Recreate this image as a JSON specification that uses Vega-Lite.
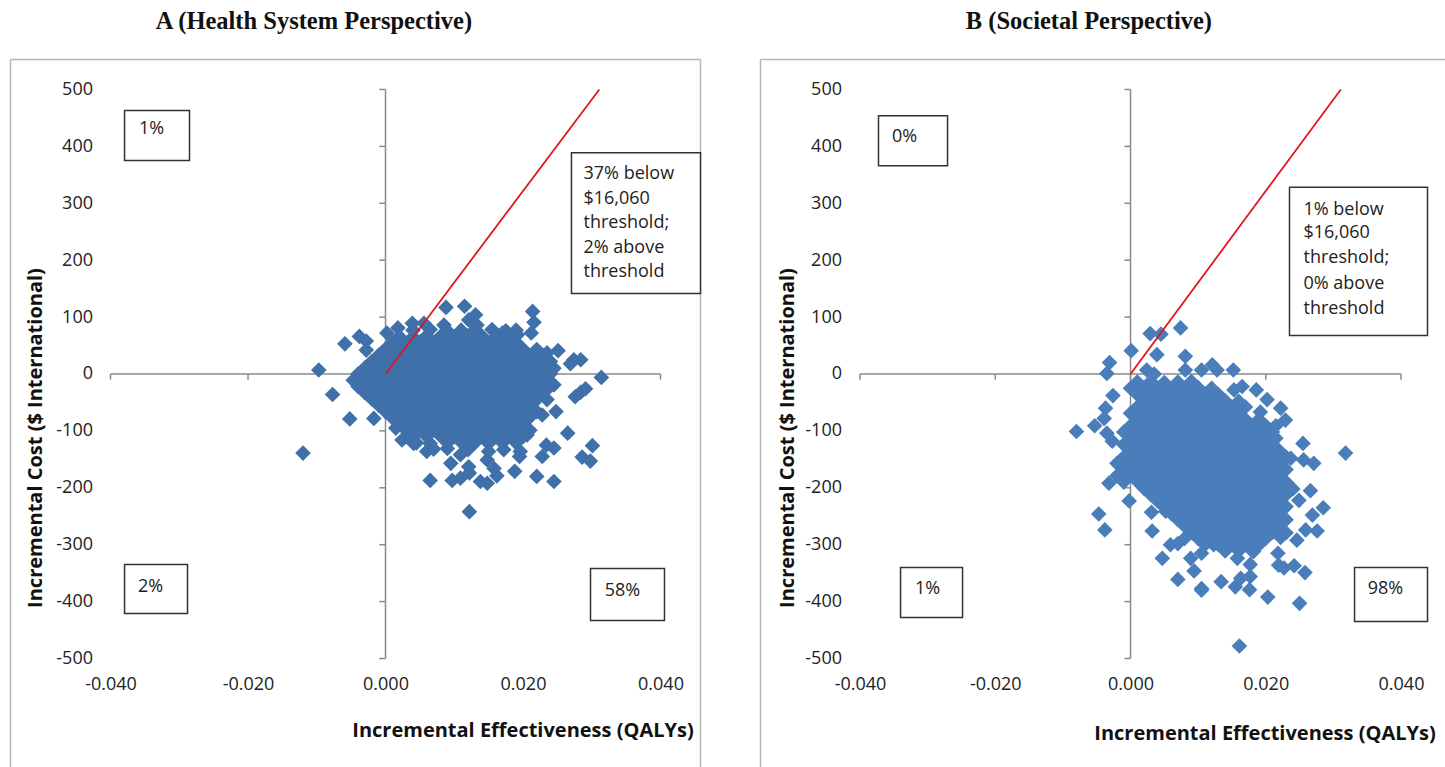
{"$schema":"https://vega.github.io/schema/vega-lite/v6.json","padding":{"left":9.5,"top":8.5,"right":0,"bottom":0},"spacing":58,"background":"white","config":{"view":{"stroke":null},"text":{"font":"Open Sans"}},
"datasets":{
"a":[
{"x":-0.0097,"y":7},{"x":-0.0059,"y":53},{"x":-0.0038,"y":66},{"x":-0.0028,"y":58},{"x":-0.0028,"y":42},{"x":-0.0077,"y":-36},{"x":-0.0052,"y":-79},{"x":-0.0017,"y":-78},{"x":-0.012,"y":-139},{"x":0.0088,"y":117},{"x":0.0115,"y":119},{"x":0.0131,"y":104},{"x":0.0121,"y":95},{"x":0.0214,"y":110},{"x":0.0216,"y":91},{"x":0.0212,"y":72},{"x":0.0251,"y":41},{"x":0.0274,"y":25},{"x":0.0284,"y":25},{"x":0.0269,"y":18},{"x":0.0314,"y":-6},{"x":0.0291,"y":-26},{"x":0.0284,"y":-32},{"x":0.0276,"y":-40},{"x":0.0248,"y":-66},{"x":0.0265,"y":-104},{"x":0.0301,"y":-126},{"x":0.0286,"y":-146},{"x":0.0298,"y":-153},{"x":0.0245,"y":-130},{"x":0.0234,"y":-125},{"x":0.0228,"y":-145},{"x":0.0245,"y":-189},{"x":0.022,"y":-180},{"x":0.0188,"y":-171},{"x":0.0195,"y":-145},{"x":0.0196,"y":-136},{"x":0.0162,"y":-179},{"x":0.0148,"y":-192},{"x":0.0138,"y":-189},{"x":0.0122,"y":-174},{"x":0.0121,"y":-163},{"x":0.0109,"y":-183},{"x":0.0097,"y":-187},{"x":0.0065,"y":-187},{"x":0.0122,"y":-242},{"x":0.0095,"y":-157},{"x":0.0148,"y":-151},{"x":0.0158,"y":-166},{"x":0.015,"y":-136},{"x":0.0172,"y":-133},{"x":0.0109,"y":-142},{"x":0.006,"y":-136},{"x":0.0024,"y":-116},{"x":0.0015,"y":-95},{"x":0.0041,"y":-122},{"x":0.0002,"y":72},{"x":0.0018,"y":81},{"x":0.0039,"y":89},{"x":0.0056,"y":89},{"x":0.0085,"y":86},{"x":0.0133,"y":86},{"x":0.0155,"y":78},{"x":0.017,"y":72},{"x":0.0192,"y":69},{"x":0.0235,"y":37},{"x":0.0235,"y":-45},{"x":0.0228,"y":-72},{"x":0.0206,"y":-107},{"x":0.0245,"y":-19},{"x":0.0245,"y":10},
{"x":0.004,"y":77},{"x":0.0065,"y":78},{"x":0.009,"y":76},{"x":0.011,"y":77},{"x":0.013,"y":78},{"x":0.0175,"y":76},{"x":0.019,"y":77},{"x":0.003,"y":-99},{"x":0.004,"y":-110},{"x":0.0045,"y":-121},{"x":0.0065,"y":-122},{"x":0.007,"y":-132},{"x":0.009,"y":-131},{"x":0.012,"y":-133},{"x":0.021,"y":-99},{"x":0.02,"y":-110},{"x":0.019,"y":-121},
{"x":0.002,"y":66},{"x":0.004,"y":65},{"x":0.006,"y":67},{"x":0.008,"y":66},{"x":0.01,"y":64},{"x":0.012,"y":66},{"x":0.014,"y":67},{"x":0.016,"y":65},{"x":0.018,"y":66},
{"x":0.001,"y":55},{"x":0.003,"y":54},{"x":0.005,"y":56},{"x":0.007,"y":55},{"x":0.009,"y":55},{"x":0.011,"y":54},{"x":0.013,"y":56},{"x":0.015,"y":55},{"x":0.017,"y":54},{"x":0.019,"y":56},
{"x":0,"y":44},{"x":0.002,"y":45},{"x":0.004,"y":44},{"x":0.006,"y":43},{"x":0.008,"y":44},{"x":0.01,"y":45},{"x":0.012,"y":44},{"x":0.014,"y":44},{"x":0.016,"y":43},{"x":0.018,"y":45},{"x":0.02,"y":44},{"x":0.022,"y":43},
{"x":-0.001,"y":33},{"x":0.001,"y":34},{"x":0.003,"y":33},{"x":0.005,"y":32},{"x":0.007,"y":33},{"x":0.009,"y":34},{"x":0.011,"y":33},{"x":0.013,"y":33},{"x":0.015,"y":32},{"x":0.017,"y":34},{"x":0.019,"y":33},{"x":0.021,"y":33},{"x":0.023,"y":32},
{"x":-0.002,"y":22},{"x":0,"y":23},{"x":0.002,"y":22},{"x":0.004,"y":21},{"x":0.006,"y":22},{"x":0.008,"y":22},{"x":0.01,"y":23},{"x":0.012,"y":22},{"x":0.014,"y":21},{"x":0.016,"y":22},{"x":0.018,"y":23},{"x":0.02,"y":22},{"x":0.022,"y":21},{"x":0.024,"y":22},
{"x":-0.003,"y":11},{"x":-0.001,"y":12},{"x":0.001,"y":11},{"x":0.003,"y":10},{"x":0.005,"y":11},{"x":0.007,"y":11},{"x":0.009,"y":12},{"x":0.011,"y":11},{"x":0.013,"y":10},{"x":0.015,"y":11},{"x":0.017,"y":12},{"x":0.019,"y":11},{"x":0.021,"y":10},{"x":0.023,"y":11},
{"x":-0.004,"y":0},{"x":-0.002,"y":1},{"x":0,"y":0},{"x":0.002,"y":-1},{"x":0.004,"y":0},{"x":0.006,"y":0},{"x":0.008,"y":1},{"x":0.01,"y":0},{"x":0.012,"y":-1},{"x":0.014,"y":0},{"x":0.016,"y":1},{"x":0.018,"y":0},{"x":0.02,"y":-1},{"x":0.022,"y":0},{"x":0.024,"y":1},
{"x":-0.0047,"y":-11},{"x":-0.003,"y":-10},{"x":-0.001,"y":-11},{"x":0.001,"y":-12},{"x":0.003,"y":-11},{"x":0.005,"y":-11},{"x":0.007,"y":-10},{"x":0.009,"y":-11},{"x":0.011,"y":-12},{"x":0.013,"y":-11},{"x":0.015,"y":-10},{"x":0.017,"y":-11},{"x":0.019,"y":-12},{"x":0.021,"y":-11},{"x":0.023,"y":-10},
{"x":-0.004,"y":-22},{"x":-0.002,"y":-21},{"x":0,"y":-22},{"x":0.002,"y":-23},{"x":0.004,"y":-22},{"x":0.006,"y":-22},{"x":0.008,"y":-21},{"x":0.01,"y":-22},{"x":0.012,"y":-23},{"x":0.014,"y":-22},{"x":0.016,"y":-21},{"x":0.018,"y":-22},{"x":0.02,"y":-23},{"x":0.022,"y":-22},{"x":0.024,"y":-21},
{"x":-0.003,"y":-33},{"x":-0.001,"y":-32},{"x":0.001,"y":-33},{"x":0.003,"y":-34},{"x":0.005,"y":-33},{"x":0.007,"y":-33},{"x":0.009,"y":-32},{"x":0.011,"y":-33},{"x":0.013,"y":-34},{"x":0.015,"y":-33},{"x":0.017,"y":-32},{"x":0.019,"y":-33},{"x":0.021,"y":-34},{"x":0.023,"y":-33},
{"x":-0.002,"y":-44},{"x":0,"y":-43},{"x":0.002,"y":-44},{"x":0.004,"y":-45},{"x":0.006,"y":-44},{"x":0.008,"y":-44},{"x":0.01,"y":-43},{"x":0.012,"y":-44},{"x":0.014,"y":-45},{"x":0.016,"y":-44},{"x":0.018,"y":-43},{"x":0.02,"y":-44},{"x":0.022,"y":-45},
{"x":-0.001,"y":-55},{"x":0.001,"y":-54},{"x":0.003,"y":-55},{"x":0.005,"y":-56},{"x":0.007,"y":-55},{"x":0.009,"y":-55},{"x":0.011,"y":-54},{"x":0.013,"y":-55},{"x":0.015,"y":-56},{"x":0.017,"y":-55},{"x":0.019,"y":-54},{"x":0.021,"y":-55},
{"x":0,"y":-66},{"x":0.002,"y":-65},{"x":0.004,"y":-66},{"x":0.006,"y":-67},{"x":0.008,"y":-66},{"x":0.01,"y":-66},{"x":0.012,"y":-65},{"x":0.014,"y":-66},{"x":0.016,"y":-67},{"x":0.018,"y":-66},{"x":0.02,"y":-65},{"x":0.022,"y":-66},
{"x":0.001,"y":-77},{"x":0.003,"y":-76},{"x":0.005,"y":-77},{"x":0.007,"y":-78},{"x":0.009,"y":-77},{"x":0.011,"y":-77},{"x":0.013,"y":-76},{"x":0.015,"y":-77},{"x":0.017,"y":-78},{"x":0.019,"y":-77},{"x":0.021,"y":-76},
{"x":0.002,"y":-88},{"x":0.004,"y":-87},{"x":0.006,"y":-88},{"x":0.008,"y":-89},{"x":0.01,"y":-88},{"x":0.012,"y":-88},{"x":0.014,"y":-87},{"x":0.016,"y":-88},{"x":0.018,"y":-89},{"x":0.02,"y":-88},
{"x":0.005,"y":-99},{"x":0.007,"y":-98},{"x":0.009,"y":-99},{"x":0.011,"y":-100},{"x":0.013,"y":-99},{"x":0.015,"y":-99},{"x":0.017,"y":-98},{"x":0.019,"y":-99},
{"x":0.006,"y":-110},{"x":0.008,"y":-109},{"x":0.01,"y":-110},{"x":0.012,"y":-111},{"x":0.014,"y":-110},{"x":0.016,"y":-110},{"x":0.018,"y":-109},
{"x":0.009,"y":-121},{"x":0.011,"y":-120},{"x":0.013,"y":-121},{"x":0.015,"y":-122},{"x":0.017,"y":-121}
],
"b":[
{"x":0.0001,"y":41},{"x":0.0029,"y":71},{"x":0.0045,"y":70},{"x":0.0074,"y":81},{"x":0.0039,"y":34},{"x":0.0081,"y":31},{"x":-0.0031,"y":20},{"x":-0.0035,"y":1},{"x":0.0024,"y":7},{"x":0.0035,"y":0},{"x":0.0081,"y":7},{"x":0.0105,"y":7},{"x":0.0121,"y":16},{"x":0.0128,"y":7},{"x":0.0152,"y":7},{"x":-0.0026,"y":-38},{"x":-0.0037,"y":-60},{"x":-0.0039,"y":-78},{"x":-0.0053,"y":-91},{"x":-0.008,"y":-101},{"x":-0.0035,"y":-104},{"x":-0.0027,"y":-118},{"x":-0.0032,"y":-192},{"x":-0.0002,"y":-223},{"x":-0.0047,"y":-246},{"x":-0.0038,"y":-274},{"x":0.0032,"y":-276},{"x":0.0031,"y":-243},{"x":0.0052,"y":-241},{"x":0.0059,"y":-300},{"x":0.0047,"y":-324},{"x":0.007,"y":-361},{"x":0.0094,"y":-346},{"x":0.0089,"y":-324},{"x":0.0105,"y":-315},{"x":0.0105,"y":-377},{"x":0.0105,"y":-380},{"x":0.0134,"y":-365},{"x":0.0155,"y":-374},{"x":0.0176,"y":-379},{"x":0.0203,"y":-392},{"x":0.025,"y":-403},{"x":0.0161,"y":-478},{"x":0.0258,"y":-349},{"x":0.0242,"y":-337},{"x":0.0227,"y":-341},{"x":0.0219,"y":-336},{"x":0.0218,"y":-315},{"x":0.0246,"y":-292},{"x":0.0222,"y":-287},{"x":0.0276,"y":-276},{"x":0.0259,"y":-274},{"x":0.0269,"y":-248},{"x":0.0285,"y":-235},{"x":0.0249,"y":-222},{"x":0.0266,"y":-205},{"x":0.0271,"y":-157},{"x":0.0256,"y":-151},{"x":0.0237,"y":-148},{"x":0.0255,"y":-122},{"x":0.0318,"y":-139},{"x":0.0192,"y":-67},{"x":0.0229,"y":-81},{"x":0.0222,"y":-60},{"x":0.0202,"y":-45},{"x":0.0186,"y":-28},{"x":0.0165,"y":-22},{"x":0.0153,"y":-28},{"x":0.0177,"y":-356},{"x":0.0163,"y":-359},{"x":0.0177,"y":-335},{"x":0.0158,"y":-324},{"x":0.0182,"y":-312},{"x":0.0143,"y":-306},{"x":0.0123,"y":-300},
{"x":0.021,"y":-102},{"x":0.0215,"y":-113},{"x":0.021,"y":-124},{"x":0.022,"y":-135},{"x":0.023,"y":-146},{"x":0.019,"y":-80},{"x":0.0215,"y":-91},{"x":0.021,"y":-278},{"x":0.023,"y":-279},{"x":0.008,"y":-289},{"x":0.02,"y":-289},{"x":0.011,"y":-300},{"x":0.019,"y":-300},{"x":0.007,"y":-298},{"x":0.014,"y":-311},{"x":0.016,"y":-311},{"x":0.018,"y":-311},
{"x":0.001,"y":-14},{"x":0.003,"y":-13},{"x":0.005,"y":-15},{"x":0.007,"y":-14},{"x":0.009,"y":-13},
{"x":0,"y":-25},{"x":0.002,"y":-24},{"x":0.004,"y":-25},{"x":0.006,"y":-26},{"x":0.008,"y":-25},{"x":0.01,"y":-24},{"x":0.012,"y":-25},
{"x":0.001,"y":-36},{"x":0.003,"y":-35},{"x":0.005,"y":-36},{"x":0.007,"y":-37},{"x":0.009,"y":-36},{"x":0.011,"y":-35},{"x":0.013,"y":-36},
{"x":0.002,"y":-47},{"x":0.004,"y":-46},{"x":0.006,"y":-47},{"x":0.008,"y":-48},{"x":0.01,"y":-47},{"x":0.012,"y":-46},{"x":0.014,"y":-47},{"x":0.016,"y":-48},
{"x":0.001,"y":-58},{"x":0.003,"y":-57},{"x":0.005,"y":-58},{"x":0.007,"y":-59},{"x":0.009,"y":-58},{"x":0.011,"y":-57},{"x":0.013,"y":-58},{"x":0.015,"y":-59},{"x":0.017,"y":-58},
{"x":0,"y":-69},{"x":0.002,"y":-68},{"x":0.004,"y":-69},{"x":0.006,"y":-70},{"x":0.008,"y":-69},{"x":0.01,"y":-68},{"x":0.012,"y":-69},{"x":0.014,"y":-70},{"x":0.016,"y":-69},
{"x":0.001,"y":-80},{"x":0.003,"y":-79},{"x":0.005,"y":-80},{"x":0.007,"y":-81},{"x":0.009,"y":-80},{"x":0.011,"y":-79},{"x":0.013,"y":-80},{"x":0.015,"y":-81},{"x":0.017,"y":-80},
{"x":0,"y":-91},{"x":0.002,"y":-90},{"x":0.004,"y":-91},{"x":0.006,"y":-92},{"x":0.008,"y":-91},{"x":0.01,"y":-90},{"x":0.012,"y":-91},{"x":0.014,"y":-92},{"x":0.016,"y":-91},{"x":0.018,"y":-90},{"x":0.02,"y":-91},
{"x":-0.001,"y":-102},{"x":0.001,"y":-101},{"x":0.003,"y":-102},{"x":0.005,"y":-103},{"x":0.007,"y":-102},{"x":0.009,"y":-101},{"x":0.011,"y":-102},{"x":0.013,"y":-103},{"x":0.015,"y":-102},{"x":0.017,"y":-101},{"x":0.019,"y":-102},
{"x":0,"y":-113},{"x":0.002,"y":-112},{"x":0.004,"y":-113},{"x":0.006,"y":-114},{"x":0.008,"y":-113},{"x":0.01,"y":-112},{"x":0.012,"y":-113},{"x":0.014,"y":-114},{"x":0.016,"y":-113},{"x":0.018,"y":-112},{"x":0.02,"y":-113},
{"x":-0.001,"y":-124},{"x":0.001,"y":-123},{"x":0.003,"y":-124},{"x":0.005,"y":-125},{"x":0.007,"y":-124},{"x":0.009,"y":-123},{"x":0.011,"y":-124},{"x":0.013,"y":-125},{"x":0.015,"y":-124},{"x":0.017,"y":-123},{"x":0.019,"y":-124},
{"x":0,"y":-135},{"x":0.002,"y":-134},{"x":0.004,"y":-135},{"x":0.006,"y":-136},{"x":0.008,"y":-135},{"x":0.01,"y":-134},{"x":0.012,"y":-135},{"x":0.014,"y":-136},{"x":0.016,"y":-135},{"x":0.018,"y":-134},{"x":0.02,"y":-135},
{"x":-0.001,"y":-146},{"x":0.001,"y":-145},{"x":0.003,"y":-146},{"x":0.005,"y":-147},{"x":0.007,"y":-146},{"x":0.009,"y":-145},{"x":0.011,"y":-146},{"x":0.013,"y":-147},{"x":0.015,"y":-146},{"x":0.017,"y":-145},{"x":0.019,"y":-146},{"x":0.021,"y":-147},
{"x":-0.002,"y":-157},{"x":0,"y":-156},{"x":0.002,"y":-157},{"x":0.004,"y":-158},{"x":0.006,"y":-157},{"x":0.008,"y":-156},{"x":0.01,"y":-157},{"x":0.012,"y":-158},{"x":0.014,"y":-157},{"x":0.016,"y":-156},{"x":0.018,"y":-157},{"x":0.02,"y":-158},{"x":0.022,"y":-157},
{"x":-0.001,"y":-168},{"x":0.001,"y":-167},{"x":0.003,"y":-168},{"x":0.005,"y":-169},{"x":0.007,"y":-168},{"x":0.009,"y":-167},{"x":0.011,"y":-168},{"x":0.013,"y":-169},{"x":0.015,"y":-168},{"x":0.017,"y":-167},{"x":0.019,"y":-168},{"x":0.021,"y":-169},{"x":0.023,"y":-168},
{"x":-0.002,"y":-179},{"x":0,"y":-178},{"x":0.002,"y":-179},{"x":0.004,"y":-180},{"x":0.006,"y":-179},{"x":0.008,"y":-178},{"x":0.01,"y":-179},{"x":0.012,"y":-180},{"x":0.014,"y":-179},{"x":0.016,"y":-178},{"x":0.018,"y":-179},{"x":0.02,"y":-180},{"x":0.022,"y":-179},
{"x":-0.001,"y":-190},{"x":0.001,"y":-189},{"x":0.003,"y":-190},{"x":0.005,"y":-191},{"x":0.007,"y":-190},{"x":0.009,"y":-189},{"x":0.011,"y":-190},{"x":0.013,"y":-191},{"x":0.015,"y":-190},{"x":0.017,"y":-189},{"x":0.019,"y":-190},{"x":0.021,"y":-191},{"x":0.023,"y":-190},
{"x":0.002,"y":-201},{"x":0.004,"y":-200},{"x":0.006,"y":-201},{"x":0.008,"y":-202},{"x":0.01,"y":-201},{"x":0.012,"y":-200},{"x":0.014,"y":-201},{"x":0.016,"y":-202},{"x":0.018,"y":-201},{"x":0.02,"y":-200},{"x":0.022,"y":-201},{"x":0.024,"y":-202},
{"x":0.003,"y":-212},{"x":0.005,"y":-211},{"x":0.007,"y":-212},{"x":0.009,"y":-213},{"x":0.011,"y":-212},{"x":0.013,"y":-211},{"x":0.015,"y":-212},{"x":0.017,"y":-213},{"x":0.019,"y":-212},{"x":0.021,"y":-211},{"x":0.023,"y":-212},
{"x":0.004,"y":-223},{"x":0.006,"y":-222},{"x":0.008,"y":-223},{"x":0.01,"y":-224},{"x":0.012,"y":-223},{"x":0.014,"y":-222},{"x":0.016,"y":-223},{"x":0.018,"y":-224},{"x":0.02,"y":-223},{"x":0.022,"y":-222},
{"x":0.005,"y":-234},{"x":0.007,"y":-233},{"x":0.009,"y":-234},{"x":0.011,"y":-235},{"x":0.013,"y":-234},{"x":0.015,"y":-233},{"x":0.017,"y":-234},{"x":0.019,"y":-235},{"x":0.021,"y":-234},{"x":0.023,"y":-233},
{"x":0.006,"y":-245},{"x":0.008,"y":-244},{"x":0.01,"y":-245},{"x":0.012,"y":-246},{"x":0.014,"y":-245},{"x":0.016,"y":-244},{"x":0.018,"y":-245},{"x":0.02,"y":-246},{"x":0.022,"y":-245},
{"x":0.007,"y":-256},{"x":0.009,"y":-255},{"x":0.011,"y":-256},{"x":0.013,"y":-257},{"x":0.015,"y":-256},{"x":0.017,"y":-255},{"x":0.019,"y":-256},{"x":0.021,"y":-257},{"x":0.023,"y":-256},
{"x":0.008,"y":-267},{"x":0.01,"y":-266},{"x":0.012,"y":-267},{"x":0.014,"y":-268},{"x":0.016,"y":-267},{"x":0.018,"y":-266},{"x":0.02,"y":-267},{"x":0.022,"y":-268},
{"x":0.009,"y":-278},{"x":0.011,"y":-277},{"x":0.013,"y":-278},{"x":0.015,"y":-279},{"x":0.017,"y":-278},{"x":0.019,"y":-277},
{"x":0.01,"y":-289},{"x":0.012,"y":-288},{"x":0.014,"y":-289},{"x":0.016,"y":-290},{"x":0.018,"y":-289},
{"x":0.013,"y":-300},{"x":0.015,"y":-299},{"x":0.017,"y":-300}
],
"ticks":[
{"x":-0.04,"x2":-0.04,"y":0,"y2":-10},{"x":-0.02,"x2":-0.02,"y":0,"y2":-10},{"x":0,"x2":0,"y":0,"y2":-10},{"x":0.02,"x2":0.02,"y":0,"y2":-10},{"x":0.04,"x2":0.04,"y":0,"y2":-10},
{"x":-0.0009,"x2":0,"y":500,"y2":500},{"x":-0.0009,"x2":0,"y":400,"y2":400},{"x":-0.0009,"x2":0,"y":300,"y2":300},{"x":-0.0009,"x2":0,"y":200,"y2":200},{"x":-0.0009,"x2":0,"y":100,"y2":100},{"x":-0.0009,"x2":0,"y":-100,"y2":-100},{"x":-0.0009,"x2":0,"y":-200,"y2":-200},{"x":-0.0009,"x2":0,"y":-300,"y2":-300},{"x":-0.0009,"x2":0,"y":-400,"y2":-400},{"x":-0.0009,"x2":0,"y":-500,"y2":-500},
{"x":0,"x2":0,"y":-500,"y2":500},{"x":-0.04,"x2":0.04,"y":0,"y2":0}
],
"threshold":[{"x":0,"y":0},{"x":0.0311,"y":500}]
},
"hconcat":[
{"width":690,"height":709,
"title":{"text":"A (Health System Perspective)","anchor":"start","dx":146,"font":"Liberation Serif","fontSize":24.5,"fontWeight":"bold","color":"#111","offset":24},
"encoding":{
"x":{"field":"x","type":"quantitative","scale":{"domain":[-0.05455,0.04582],"nice":false,"zero":false},"axis":{"grid":false,"domain":false,"ticks":false,"values":[-0.04,-0.02,0,0.02,0.04],"labelExpr":"replace(format(datum.value,'.3f'),'−','-')","offset":-93,"labelPadding":0,"labelFont":"Open Sans","labelFontSize":18,"labelColor":"#222","title":"Incremental Effectiveness (QALYs)","titleFont":"Open Sans","titleFontSize":20,"titleFontWeight":"bold","titleColor":"#111","titleX":512,"titleY":55,"titleBaseline":"middle","titleAnchor":null}},
"y":{"field":"y","type":"quantitative","scale":{"domain":[-693.3,552.7],"nice":false,"zero":false},"axis":{"grid":false,"domain":false,"ticks":false,"values":[-500,-400,-300,-200,-100,0,100,200,300,400,500],"offset":-82,"labelPadding":0,"labelFont":"Open Sans","labelFontSize":18,"labelColor":"#222","labelExpr":"replace(format(datum.value,'d'),'−','-')","title":"Incremental Cost ($ International)","titleFont":"Open Sans","titleFontSize":20,"titleFontWeight":"bold","titleColor":"#111","titleX":-57,"titleY":378,"titleBaseline":"middle"}}
},
"layer":[
{"data":{"values":[{"x":-0.05455,"x2":-0.05455,"y":-693.3,"y2":552.7},{"x":0.04582,"x2":0.04582,"y":-693.3,"y2":552.7},{"x":-0.05455,"x2":0.04582,"y":552.7,"y2":552.7}]},"mark":{"type":"rule","color":"#b5b5b5","strokeWidth":1.5},"encoding":{"x2":{"field":"x2"},"y2":{"field":"y2"}}},
{"data":{"name":"ticks"},"mark":{"type":"rule","color":"#8a8a8a","strokeWidth":1.5},"encoding":{"x2":{"field":"x2"},"y2":{"field":"y2"}}},
{"data":{"name":"a"},"mark":{"type":"point","shape":"diamond","filled":true,"size":245,"opacity":1,"color":"#3f70a9"}},
{"data":{"name":"threshold"},"mark":{"type":"line","color":"#e0161f","strokeWidth":1.8}},
{"data":{"values":[{"x":-0.03796,"x2":-0.02851,"y":463,"y2":375},{"x":0.02705,"x2":0.04582,"y":389,"y2":141.5},{"x":-0.03796,"x2":-0.0288,"y":-334.8,"y2":-421},{"x":0.02982,"x2":0.04058,"y":-342,"y2":-433}]},"mark":{"type":"rect","fill":"white","stroke":"#333","strokeWidth":1.5},"encoding":{"x2":{"field":"x2"},"y2":{"field":"y2"}}},
{"data":{"values":[{"x":-0.03404,"y":430,"t":"1%"},{"x":-0.03418,"y":-373.5,"t":"2%"},{"x":0.03447,"y":-380.5,"t":"58%"}]},"mark":{"type":"text","align":"center","baseline":"middle","fontSize":18,"color":"#222","font":"Open Sans"},"encoding":{"text":{"field":"t"}}},
{"data":{"values":[{"x":0.0288,"y":352,"t":"37% below"},{"x":0.0288,"y":308.4,"t":"$16,060"},{"x":0.0288,"y":266,"t":"threshold;"},{"x":0.0288,"y":222,"t":"2% above"},{"x":0.0288,"y":180,"t":"threshold"}]},"mark":{"type":"text","align":"left","baseline":"middle","fontSize":18,"color":"#222","font":"Open Sans"},"encoding":{"text":{"field":"t"}}}
]},
{"width":685,"height":709,
"title":{"text":"B (Societal Perspective)","anchor":"start","dx":206,"font":"Liberation Serif","fontSize":24.5,"fontWeight":"bold","color":"#111","offset":24},
"encoding":{
"x":{"field":"x","type":"quantitative","scale":{"domain":[-0.05472,0.04658],"nice":false,"zero":false},"axis":{"grid":false,"domain":false,"ticks":false,"values":[-0.04,-0.02,0,0.02,0.04],"labelExpr":"replace(format(datum.value,'.3f'),'−','-')","offset":-93,"labelPadding":0,"labelFont":"Open Sans","labelFontSize":18,"labelColor":"#222","title":"Incremental Effectiveness (QALYs)","titleFont":"Open Sans","titleFontSize":20,"titleFontWeight":"bold","titleColor":"#111","titleX":504,"titleY":58,"titleBaseline":"middle","titleAnchor":null}},
"y":{"field":"y","type":"quantitative","scale":{"domain":[-693.3,552.7],"nice":false,"zero":false},"axis":{"grid":false,"domain":false,"ticks":false,"values":[-500,-400,-300,-200,-100,0,100,200,300,400,500],"offset":-81,"labelPadding":0,"labelFont":"Open Sans","labelFontSize":18,"labelColor":"#222","labelExpr":"replace(format(datum.value,'d'),'−','-')","title":"Incremental Cost ($ International)","titleFont":"Open Sans","titleFontSize":20,"titleFontWeight":"bold","titleColor":"#111","titleX":-54,"titleY":378,"titleBaseline":"middle"}}
},
"layer":[
{"data":{"values":[{"x":-0.05472,"x2":-0.05472,"y":-693.3,"y2":552.7},{"x":-0.05472,"x2":0.04658,"y":552.7,"y2":552.7}]},"mark":{"type":"rule","color":"#b5b5b5","strokeWidth":1.5},"encoding":{"x2":{"field":"x2"},"y2":{"field":"y2"}}},
{"data":{"name":"ticks"},"mark":{"type":"rule","color":"#8a8a8a","strokeWidth":1.5},"encoding":{"x2":{"field":"x2"},"y2":{"field":"y2"}}},
{"data":{"name":"b"},"mark":{"type":"point","shape":"diamond","filled":true,"size":245,"opacity":1,"color":"#4a7ebb"}},
{"data":{"name":"threshold"},"mark":{"type":"line","color":"#e0161f","strokeWidth":1.8}},
{"data":{"values":[{"x":-0.03727,"x2":-0.02706,"y":454,"y2":366},{"x":0.02351,"x2":0.04392,"y":328,"y2":67.7},{"x":-0.03401,"x2":-0.02484,"y":-340,"y2":-428},{"x":0.03313,"x2":0.04392,"y":-340,"y2":-435}]},"mark":{"type":"rect","fill":"white","stroke":"#333","strokeWidth":1.5},"encoding":{"x2":{"field":"x2"},"y2":{"field":"y2"}}},
{"data":{"values":[{"x":-0.03342,"y":417,"t":"0%"},{"x":-0.03002,"y":-377,"t":"1%"},{"x":0.03771,"y":-377,"t":"98%"}]},"mark":{"type":"text","align":"center","baseline":"middle","fontSize":18,"color":"#222","font":"Open Sans"},"encoding":{"text":{"field":"t"}}},
{"data":{"values":[{"x":0.02558,"y":289,"t":"1% below"},{"x":0.02558,"y":247,"t":"$16,060"},{"x":0.02558,"y":203,"t":"threshold;"},{"x":0.02558,"y":159,"t":"0% above"},{"x":0.02558,"y":115,"t":"threshold"}]},"mark":{"type":"text","align":"left","baseline":"middle","fontSize":18,"color":"#222","font":"Open Sans"},"encoding":{"text":{"field":"t"}}}
]}
]}
